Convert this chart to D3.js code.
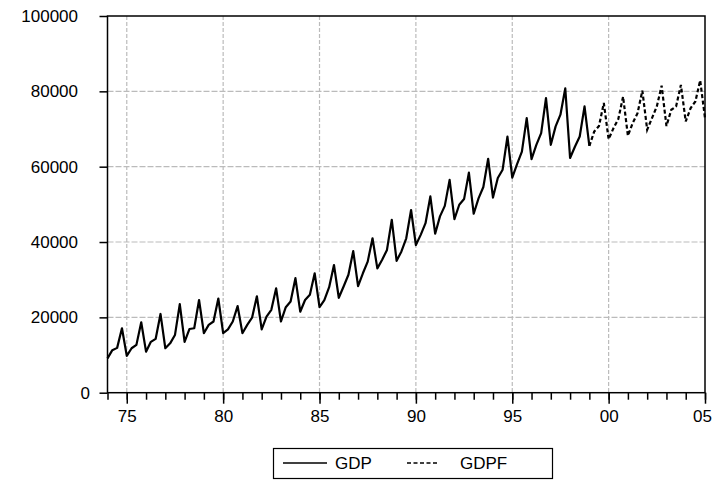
<!DOCTYPE html>
<html>
<head>
<meta charset="utf-8">
<script src="https://cdn.jsdelivr.net/npm/d3@7"></script>
<style>
  body { margin: 0; background: #fff; }
  text { font-family: "Liberation Sans", Arial, sans-serif; fill: #000; }
</style>
</head>
<body>
<script>
// Quarterly series, first observation 1974Q1
const firstYear = 1974;

// GDP, 1974Q1 - 1999Q1 (four values per year)
const gdp = [
  9100, 11300, 11900, 17100,
  9800, 11800, 12700, 18700,
  10900, 13500, 14300, 20900,
  11800, 13100, 15300, 23500,
  13500, 16900, 17100, 24600,
  15800, 18000, 18900, 25000,
  15800, 16800, 18900, 23000,
  15800, 18000, 19900, 25600,
  16800, 20200, 22000, 27700,
  18900, 22700, 24200, 30400,
  21500, 24600, 26000, 31700,
  22700, 24600, 28000, 33900,
  25200, 28200, 31300, 37600,
  28300, 31700, 34800, 41000,
  33000, 35300, 37900, 45900,
  35000, 37500, 41000, 48500,
  39200, 41900, 45000, 52100,
  42200, 46800, 49600, 56500,
  46100, 49900, 51400, 58400,
  47500, 51600, 54600, 62100,
  51800, 57000, 59200, 68000,
  57100, 60700, 64000, 72900,
  62000, 65800, 68900, 78200,
  65800, 70700, 73800, 80800,
  62300, 65300, 68000, 76000,
  65500
];

// GDPF forecast, 1999Q1 - 2005Q1
const gdpf = [
  65500, 69300, 70800, 76900,
  67300, 70200, 72600, 78600,
  68200, 71600, 74200, 80200,
  69800, 72900, 76000, 81500,
  70800, 75100, 76000, 81700,
  72000, 75500, 77300, 82900,
  72900
];
const gdpfStart = gdp.length - 1; // forecast starts at the last GDP quarter

const yTicks = [0, 20000, 40000, 60000, 80000, 100000];
const xMajorYears = [1975, 1980, 1985, 1990, 1995, 2000, 2005];
const xMajorLabels = ["75", "80", "85", "90", "95", "00", "05"];
const xMinorYears = d3.range(1974, 2006);

// Set margins and dimensions
const margin = { top: 16, right: 7, bottom: 87.3, left: 107.5 };
const W = 712, H = 480;
const width = W - margin.left - margin.right;
const height = H - margin.top - margin.bottom;

const svgRoot = d3.select("body").append("svg")
  .attr("width", W)
  .attr("height", H);

const svg = svgRoot.append("g")
  .attr("transform", `translate(${margin.left}, ${margin.top})`);

const x = d3.scaleLinear().domain([1974, 2005]).range([0, width]);
const y = d3.scaleLinear().domain([0, 100000]).range([height, 0]);

// grid lines
svg.append("g")
  .selectAll("line")
  .data(yTicks.filter(d => d > 0 && d < 100000))
  .join("line")
  .attr("x1", 0).attr("x2", width)
  .attr("y1", d => y(d)).attr("y2", d => y(d))
  .attr("stroke", "#bbb")
  .attr("stroke-width", 1.2)
  .attr("stroke-dasharray", "6,2");

svg.append("g")
  .selectAll("line")
  .data(xMajorYears.filter(d => d < 2005))
  .join("line")
  .attr("x1", d => x(d)).attr("x2", d => x(d))
  .attr("y1", 0).attr("y2", height)
  .attr("stroke", "#bbb")
  .attr("stroke-width", 1.2)
  .attr("stroke-dasharray", "4,2");

// Y axis
const yAxis = svg.append("g")
  .call(d3.axisLeft(y).tickValues(yTicks).tickSize(8).tickPadding(21.5).tickFormat(d3.format("d")));
yAxis.select(".domain").remove();
yAxis.selectAll("line").attr("stroke", "#000").attr("stroke-width", 1.5);
yAxis.selectAll("text").style("font-size", "17px")
  .filter(d => d === 0).attr("x", -17.5);

// X axis: minor ticks each year, major ticks with labels
const xMinor = svg.append("g")
  .attr("transform", `translate(0, ${height})`)
  .call(d3.axisBottom(x).tickValues(xMinorYears).tickSize(7).tickFormat(""));
xMinor.select(".domain").remove();
xMinor.selectAll("line").attr("stroke", "#000").attr("stroke-width", 1.5);

const xMajor = svg.append("g")
  .attr("transform", `translate(0, ${height})`)
  .call(d3.axisBottom(x).tickValues(xMajorYears).tickSize(11).tickPadding(6)
    .tickFormat((d, i) => xMajorLabels[i]));
xMajor.select(".domain").remove();
xMajor.selectAll("line").attr("stroke", "#000").attr("stroke-width", 1.5);
xMajor.selectAll("text").style("font-size", "17px");
// last label sits flush against the right edge
xMajor.selectAll("text").filter(d => d === 2005)
  .attr("text-anchor", "end")
  .attr("x", 6.5);

// Lines
const line = d3.line()
  .x(d => x(d.t))
  .y(d => y(d.v));

svg.append("path")
  .datum(gdp.map((v, i) => ({ t: firstYear + i / 4, v: v })))
  .attr("d", line)
  .attr("fill", "none")
  .attr("stroke", "#000")
  .attr("stroke-width", 2.2)
  .attr("stroke-linejoin", "round");

svg.append("path")
  .datum(gdpf.map((v, i) => ({ t: firstYear + (gdpfStart + i) / 4, v: v })))
  .attr("d", line)
  .attr("fill", "none")
  .attr("stroke", "#000")
  .attr("stroke-width", 2.2)
  .attr("stroke-dasharray", "4,2.5");

// frame
svg.append("rect")
  .attr("width", width)
  .attr("height", height)
  .attr("fill", "none")
  .attr("stroke", "#000")
  .attr("stroke-width", 1.5);

// Legend
const legend = svgRoot.append("g");
legend.append("rect")
  .attr("x", 273.5).attr("y", 448.5)
  .attr("width", 279).attr("height", 30)
  .attr("fill", "#fff")
  .attr("stroke", "#000")
  .attr("stroke-width", 1.2);

const legendItems = [
  { name: "GDP", x1: 283, x2: 327, tx: 335, dash: null },
  { name: "GDPF", x1: 407, x2: 439, tx: 460, dash: "4,2.5" }
];
legendItems.forEach(s => {
  legend.append("line")
    .attr("x1", s.x1).attr("x2", s.x2)
    .attr("y1", 463).attr("y2", 463)
    .attr("stroke", "#000")
    .attr("stroke-width", 1.5)
    .attr("stroke-dasharray", s.dash);
  legend.append("text")
    .attr("x", s.tx).attr("y", 469)
    .style("font-size", "17px")
    .text(s.name);
});
</script>
</body>
</html>
